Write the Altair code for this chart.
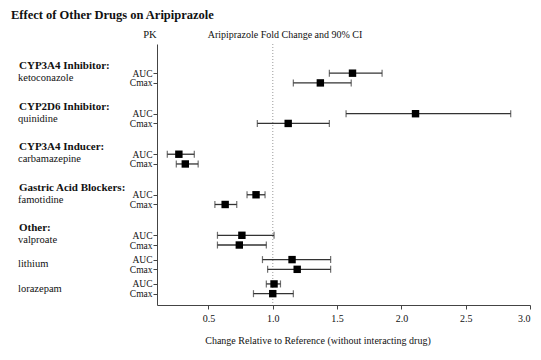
import altair as alt
import pandas as pd

# ---------------- data ----------------
chart_title = "Effect of Other Drugs on Aripiprazole"
pk_header = "PK"
ci_header = "Aripiprazole Fold Change and 90% CI"
x_title = "Change Relative to Reference (without interacting drug)"

group_labels = ["CYP3A4 Inhibitor:", "CYP2D6 Inhibitor:", "CYP3A4 Inducer:",
                "Gastric Acid Blockers:", "Other:"]
drugs = ["ketoconazole", "quinidine", "carbamazepine", "famotidine",
         "valproate", "lithium", "lorazepam"]
drug_group = [0, 1, 2, 3, 4, 4, 4]
pk_params = ["AUC", "Cmax"]

auc = [1.62, 2.11, 0.27, 0.87, 0.76, 1.15, 1.01]
auc_lo = [1.44, 1.57, 0.18, 0.80, 0.57, 0.92, 0.95]
auc_hi = [1.85, 2.85, 0.39, 0.94, 1.01, 1.45, 1.06]
cmax = [1.37, 1.12, 0.32, 0.63, 0.74, 1.19, 1.00]
cmax_lo = [1.16, 0.88, 0.25, 0.55, 0.57, 0.96, 0.85]
cmax_hi = [1.61, 1.44, 0.42, 0.72, 0.95, 1.45, 1.16]

x_ticks = [0.5, 1.0, 1.5, 2.0, 2.5, 3.0]
reference = [1.0]

# ---------------- row layout (derived from structure) ----------------
pos = []
for i, g in enumerate(drug_group):
    if i == 0:
        p = 0
    elif g != drug_group[i - 1]:
        p += 5
    else:
        p += 3
    pos.append(p)

A_OFF, C_OFF = -0.1, 1.1   # AUC / Cmax row offsets within a drug
rows = []
for i, d in enumerate(drugs):
    rows.append(dict(drug=d, pk=pk_params[0], pos=pos[i] + A_OFF, val=auc[i], lo=auc_lo[i], hi=auc_hi[i]))
    rows.append(dict(drug=d, pk=pk_params[1], pos=pos[i] + C_OFF, val=cmax[i], lo=cmax_lo[i], hi=cmax_hi[i]))
df = pd.DataFrame(rows)

all_pos = sorted(df["pos"].tolist())
label_expr = ("round(datum.value) > datum.value ? '" + pk_params[0] + "' : '" + pk_params[1] + "'")

group_rows = []
seen = set()
for i, g in enumerate(drug_group):
    if g not in seen:
        seen.add(g)
        group_rows.append(dict(label=group_labels[g], pos=pos[i]))
gdf = pd.DataFrame(group_rows)
ddf = pd.DataFrame(dict(label=drugs, pos=pos))
rdf = pd.DataFrame(dict(ref=reference))

W, H = 373, 261
FONT = "Liberation Serif"

xscale = alt.Scale(domain=[0.1, 3.0], nice=False, zero=False)
yscale = alt.Scale(domain=[-3.7, 28.5], reverse=True, nice=False, zero=False)

xaxis = alt.Axis(values=x_ticks, format=".1f", title=None, grid=False, tickSize=4,
                 domainColor="#444", tickColor="#444", labelFont=FONT, labelFontSize=10,
                 labelColor="#111", labelPadding=4, labelOverlap=False, tickCount=20)
yaxis = alt.Axis(values=all_pos, labelExpr=label_expr, title=None, grid=False, tickSize=4,
                 domainColor="#444", tickColor="#444", labelFont=FONT, labelFontSize=9.5,
                 labelColor="#111", labelPadding=1, labelOverlap=False, labelBound=False,
                 tickCount=100)

base = alt.Chart(df)

ref_line = alt.Chart(rdf).mark_rule(color="#aaa", strokeDash=[1, 2], strokeWidth=1.2).encode(
    x=alt.X("ref:Q", scale=xscale, axis=xaxis))

bars = base.mark_rule(color="#333", strokeWidth=1.3).encode(
    x=alt.X("lo:Q", scale=xscale, axis=xaxis), x2="hi:Q",
    y=alt.Y("pos:Q", scale=yscale, axis=yaxis))
cap_lo = base.mark_tick(orient="vertical", size=7, thickness=1.2, color="#333").encode(
    x=alt.X("lo:Q", scale=xscale), y=alt.Y("pos:Q", scale=yscale))
cap_hi = base.mark_tick(orient="vertical", size=7, thickness=1.2, color="#333").encode(
    x=alt.X("hi:Q", scale=xscale), y=alt.Y("pos:Q", scale=yscale))
pts = base.mark_square(size=55, color="black", opacity=1).encode(
    x=alt.X("val:Q", scale=xscale), y=alt.Y("pos:Q", scale=yscale))

grp_text = alt.Chart(gdf).mark_text(align="left", baseline="middle", font=FONT, fontSize=11,
                                    fontWeight="bold", color="#111", dy=-8).encode(
    x=alt.value(-138), y=alt.Y("pos:Q", scale=yscale), text="label:N")
drug_text = alt.Chart(ddf).mark_text(align="left", baseline="middle", font=FONT, fontSize=10.5,
                                     color="#111", dy=4).encode(
    x=alt.value(-139), y=alt.Y("pos:Q", scale=yscale), text="label:N")

def label(txt, x, y, size, weight="normal", align="left"):
    return alt.Chart(pd.DataFrame(dict(t=[txt]))).mark_text(
        align=align, baseline="middle", font=FONT, fontSize=size, fontWeight=weight,
        color="#111").encode(x=alt.value(x), y=alt.value(y), text="t:N")

t_title = label(chart_title, -146, -29, 12.5, "bold")
t_pk = label(pk_header, -7, -9, 10.5, align="center")
t_ci = label(ci_header, 128, -9, 10, align="center")
t_x = label(x_title, 161, 36 + H - 0, 10, align="center")

chart = alt.layer(ref_line, bars, cap_lo, cap_hi, pts, grp_text, drug_text,
                  t_title, t_pk, t_ci, t_x).properties(
    width=W, height=H,
    padding={"left": 149, "top": 36, "right": 3, "bottom": 47},
    autosize=alt.AutoSizeParams(type="none"),
    background="white",
).configure_view(stroke=None)

chart.save("out.html", embed_options={"renderer": "svg", "actions": False})
